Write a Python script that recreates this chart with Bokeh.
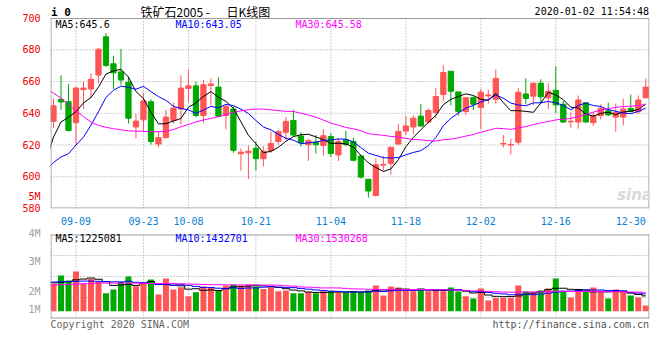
from bokeh.plotting import figure
from bokeh.models import ColumnDataSource, FixedTicker, Label, Range1d
from bokeh.layouts import column
from bokeh.embed import file_html
from bokeh.resources import INLINE

# ---------------- data ----------------
dates = ["09-04", "09-05", "09-06", "09-09", "09-10", "09-11", "09-12", "09-16", "09-17", "09-18",
         "09-19", "09-20", "09-23", "09-24", "09-25", "09-26", "09-27", "09-30", "10-08", "10-09",
         "10-10", "10-11", "10-14", "10-15", "10-16", "10-17", "10-18", "10-21", "10-22", "10-23",
         "10-24", "10-25", "10-28", "10-29", "10-30", "10-31", "11-01", "11-04", "11-05", "11-06",
         "11-07", "11-08", "11-11", "11-12", "11-13", "11-14", "11-15", "11-18", "11-19", "11-20",
         "11-21", "11-22", "11-25", "11-26", "11-27", "11-28", "11-29", "12-02", "12-03", "12-04",
         "12-05", "12-06", "12-09", "12-10", "12-11", "12-12", "12-13", "12-16", "12-17", "12-18",
         "12-19", "12-20", "12-23", "12-24", "12-25", "12-26", "12-27", "12-30", "12-31", "01-02"]

opens = [634.9, 648.8, 647.3, 634.1, 654.9, 655.3, 664.1, 688.2, 671.2, 666.1,
         659.6, 631.4, 635.9, 647.3, 620.6, 624.7, 635.5, 642.7, 655.7, 657.3,
         638.6, 657.5, 656.5, 638.6, 642.7, 614.5, 615.1, 618.0, 611.4, 616.5,
         622.2, 628.0, 635.5, 625.7, 620.2, 621.8, 619.8, 625.3, 613.7, 623.3,
         622.2, 613.1, 598.4, 588.2, 607.3, 608.4, 620.6, 628.8, 631.4, 638.2,
         634.5, 640.6, 651.8, 666.5, 653.5, 641.2, 649.8, 643.7, 651.0, 648.8,
         620.6, 620.0, 621.8, 652.2, 650.8, 659.0, 649.8, 654.5, 645.7, 634.6,
         634.5, 646.7, 634.1, 638.6, 641.6, 637.6, 637.6, 643.1, 641.0, 649.8]
highs = [649.2, 663.9, 658.4, 656.9, 660.0, 665.1, 681.0, 690.5, 676.3, 680.6,
         663.1, 639.6, 652.9, 648.8, 628.8, 642.2, 646.7, 663.9, 667.6, 660.0,
         661.0, 662.0, 662.7, 645.7, 644.3, 617.8, 619.6, 622.2, 619.2, 628.4,
         629.4, 637.6, 642.2, 628.0, 623.9, 626.3, 630.0, 627.3, 624.3, 629.0,
         624.7, 613.7, 598.4, 611.6, 613.1, 618.6, 633.5, 638.2, 638.6, 645.7,
         643.1, 655.9, 670.2, 666.5, 653.5, 650.0, 650.8, 655.3, 654.9, 667.6,
         626.3, 623.9, 655.9, 662.0, 659.0, 661.4, 659.0, 669.6, 647.8, 640.6,
         651.2, 647.1, 640.6, 645.7, 646.7, 646.1, 649.2, 651.8, 651.2, 662.0]
lows = [630.8, 642.2, 628.5, 620.2, 642.7, 649.8, 659.0, 669.2, 655.3, 658.0,
        633.5, 624.3, 628.4, 620.2, 618.6, 623.9, 633.5, 632.9, 647.1, 637.6,
        634.1, 645.1, 637.5, 629.8, 615.1, 603.9, 598.6, 603.9, 606.5, 615.1,
        620.2, 623.3, 625.9, 619.2, 610.0, 614.7, 613.3, 612.4, 610.0, 619.2,
        609.6, 598.8, 586.9, 587.5, 603.9, 601.4, 620.2, 626.3, 626.7, 631.4,
        633.5, 636.9, 647.8, 645.1, 638.6, 639.0, 642.0, 630.0, 646.1, 645.9,
        618.4, 614.1, 620.2, 645.7, 645.1, 645.7, 642.7, 640.2, 634.1, 631.0,
        630.4, 634.1, 632.0, 636.1, 638.2, 628.4, 632.4, 640.6, 639.6, 649.4]
closes = [644.7, 647.1, 629.2, 655.9, 655.9, 661.4, 680.4, 670.2, 665.5, 661.0,
          636.9, 635.1, 647.8, 622.2, 624.7, 637.6, 643.3, 655.9, 657.3, 638.6,
          658.0, 658.5, 638.2, 644.3, 616.7, 615.5, 616.1, 611.4, 616.1, 621.0,
          628.4, 634.9, 626.3, 621.6, 622.7, 620.2, 625.9, 614.7, 622.2, 620.4,
          610.4, 599.8, 591.0, 607.6, 607.8, 618.6, 628.6, 632.0, 636.9, 632.0,
          641.8, 650.6, 665.7, 653.9, 641.2, 649.8, 645.7, 653.3, 651.6, 662.0,
          621.0, 620.4, 653.3, 649.4, 659.0, 650.4, 653.9, 645.3, 634.5, 635.0,
          648.4, 634.5, 638.6, 643.1, 639.0, 640.6, 642.7, 641.2, 648.4, 656.5]
volumes = [2266000, 2963000, 2548000, 3295000, 2266000, 2681000, 2465000, 1494000, 1801000, 2465000,
           2880000, 2075000, 2266000, 2631000, 1386000, 2714000, 1801000, 1992000, 1245000, 1577000,
           2050000, 1967000, 1718000, 2133000, 2216000, 2133000, 2216000, 2075000, 1851000, 2050000,
           1660000, 1718000, 1494000, 1494000, 1602000, 1494000, 1660000, 1660000, 1577000, 1577000,
           1635000, 1577000, 1718000, 2133000, 1303000, 2050000, 1967000, 1718000, 1660000, 1801000,
           1660000, 1801000, 1660000, 1967000, 1635000, 1245000, 1054000, 1884000, 888000, 1104000,
           1104000, 1104000, 2133000, 1635000, 1577000, 1718000, 1884000, 2714000, 1635000, 1137000,
           1635000, 1635000, 1967000, 1718000, 1054000, 1801000, 1635000, 1303000, 1137000, 473000]

# moving-average values visible before enough on-chart history exists,
# starting one session before the first candle
ma5_lead = [610.0, 625.0, 634.5, 637.5, 641.0]
ma10_lead = [604.0, 609.0, 612.5, 614.5, 620.0, 625.0, 632.5, 641.0, 650.0, 654.5]
ma30_lead = [656.0, 652.7, 649.5, 645.5, 641.5, 638.0, 634.5, 632.3, 631.2, 630.3,
             629.6, 629.0, 628.7, 628.6, 628.4, 628.4, 628.6, 629.8, 631.5, 633.0,
             634.6, 635.8, 636.8, 637.8, 639.2, 640.6, 641.5, 642.3, 642.7, 642.6]
vma5_lead = [2350000, 2350000, 2400000, 2450000, 2600000]
vma10_lead = [2400000, 2420000, 2440000, 2460000, 2480000, 2500000, 2500000, 2480000, 2460000, 2440000]
vma30_lead = [2150000, 2170000, 2200000, 2220000, 2250000, 2280000, 2300000, 2320000, 2330000, 2330000,
              2330000, 2330000, 2330000, 2320000, 2300000, 2300000, 2300000, 2300000, 2280000, 2260000,
              2240000, 2220000, 2200000, 2200000, 2190000, 2180000, 2180000, 2180000, 2170000, 2170000]

tick_labels = ["09-09", "09-23", "10-08", "10-21", "11-04", "11-18", "12-02", "12-16", "12-30"]
price_ticks = [580, 600, 620, 640, 660, 680, 700]
# volume scale labels printed on the source chart (value, text); the lowest one sits at the bar base
vol_scale_main = [(5e6, "5M")]
vol_scale_sub = [(4e6, "4M"), (3e6, "3M"), (2e6, "2M"), (1.38e6, "1M")]

title_parts = ["铁矿石2005 -", "日K线图"]
symbol_text = "i 0"
time_text = "2020-01-02 11:54:48"
price_legend = ["MA5:645.6", "MA10:643.05", "MA30:645.58"]
vol_legend = ["MA5:1225081", "MA10:1432701", "MA30:1530268"]
copyright_text = "Copyright 2020 SINA.COM"
url_text = "http://finance.sina.com.cn"

# ---------------- styling / layout ----------------
MONO = "DejaVu Sans Mono"
CJK = "Noto Sans CJK SC"
UP, DOWN = "#ff5555", "#00a800"
GRID, FRAME = "#a0a0a0", "#999999"
MA_COLORS = ["#000000", "#0000ff", "#ff00ff"]
VLAB_COLOR = "#a0a0a0"

W = 652
LB, RB = 50, 3
FW = W - LB - RB
X0, X1 = -0.4, 79.5
PXU = FW / (X1 - X0)

# main panel: canvas rows 0..227; drawing frame rows 1..213, visible box rows 18..213
H1, BB, FT1 = 227, 14, 1
FB1 = H1 - BB
BOX_TOP = 18
P_LO, P_HI = price_ticks[0], price_ticks[-1]
PPX = (P_HI - P_LO) / (FB1 - BOX_TOP)       # price per pixel
P_TOP = P_HI + (BOX_TOP - FT1) * PPX

# volume panel: canvas rows 227..336 (whole-chart rows); frame rows 228..335
H2, FT2, FB2 = 109, 1, 1
VPX = 83000.0                      # volume per pixel
V_BASE = 310.7                     # row of zero volume
V_HI = (V_BASE - (H1 + FT2)) * VPX
V_LO = -((H1 + H2 - FB2) - V_BASE) * VPX
VBOX_TOP, VBOX_BOT = 234, 318

# the source chart's own volume-label scale: 30 px per million, zero at row 350.7
LBL_PX, LBL_ZERO = 30.0, 350.7


def fx(px):
    return X0 + (px - LB) / PXU


def fy(py):
    return P_TOP - (py - FT1) * PPX


def vy(py):
    return V_HI - (py - (H1 + FT2)) * VPX


def moving(values, n, lead):
    out = list(lead)
    for i in range(n - 1, len(values)):
        out.append(sum(values[i - n + 1:i + 1]) / n)
    return out


def lab(fig, x, y, text, color="#000000", size="10px", font=MONO, align="left", style="normal"):
    fig.add_layout(Label(x=x, y=y, text=text, text_align=align, text_baseline="middle",
                         text_font=font, text_font_size=size, text_font_style=style,
                         text_color=color))


def style_axis(ax, color):
    ax.major_label_text_color = color
    ax.major_label_text_font = MONO
    ax.major_label_text_font_size = "10px"
    ax.axis_line_color = None
    ax.major_tick_line_color = None
    ax.minor_tick_line_color = None


def box(fig, conv, top_row, bot_row):
    # 1-px border of a panel drawn as thin filled strips
    fig.quad(left=[fx(50), fx(50), fx(50), fx(648)],
             right=[fx(649), fx(649), fx(51), fx(649)],
             top=[conv(top_row), conv(bot_row - 1), conv(top_row), conv(top_row)],
             bottom=[conv(top_row + 1), conv(bot_row), conv(bot_row), conv(bot_row)],
             fill_color=FRAME, line_color=None)


n = len(dates)
idx = list(range(n))
colors = [UP if c >= o else DOWN for o, c in zip(opens, closes)]
src = ColumnDataSource(dict(
    x=idx, o=opens, h=highs, l=lows, c=closes,
    top=[max(o, c) for o, c in zip(opens, closes)],
    bot=[min(o, c) for o, c in zip(opens, closes)],
    color=colors, vol=volumes))
ma_x = list(range(-1, n))
mas = [moving(closes, 5, ma5_lead), moving(closes, 10, ma10_lead), moving(closes, 30, ma30_lead)]
vmas = [moving(volumes, 5, vma5_lead), moving(volumes, 10, vma10_lead), moving(volumes, 30, vma30_lead)]

tick_pos = [dates.index(t) for t in tick_labels]
grid_x = tick_pos[:-1]

# ---------------- price panel ----------------
p = figure(width=W, height=H1, x_range=Range1d(X0, X1), y_range=Range1d(fy(FB1), P_TOP),
           output_backend="svg", toolbar_location=None,
           min_border_left=LB, min_border_right=RB, min_border_top=FT1, min_border_bottom=BB)
p.outline_line_color = None
p.background_fill_color = "white"
p.border_fill_color = "white"

# the "5M" volume-scale label printed in the price panel's margin, placed on the price axis
five_m_at = fy(LBL_ZERO - vol_scale_main[0][0] / 1e6 * LBL_PX)
p.yaxis.ticker = FixedTicker(ticks=price_ticks + [five_m_at])
p.yaxis.major_label_overrides = {five_m_at: vol_scale_main[0][1]}
style_axis(p.yaxis[0], "#f00000")
p.yaxis.major_label_standoff = 4

p.xaxis.ticker = FixedTicker(ticks=tick_pos)
p.xaxis.major_label_overrides = {i: t for i, t in zip(tick_pos, tick_labels)}
style_axis(p.xaxis[0], "#0a7fd2")
p.xaxis.major_label_standoff = 2

p.xgrid.visible = False
p.ygrid.visible = False
gy = price_ticks[1:-1]
p.segment(x0=[X0] * len(gy), y0=gy, x1=[X1] * len(gy), y1=gy,
          line_color=GRID, line_dash="1 2", line_width=1)
p.segment(x0=grid_x, y0=[P_LO] * len(grid_x), x1=grid_x, y1=[P_HI] * len(grid_x),
          line_color=GRID, line_dash="1 2", line_width=1)

p.segment(x0="x", y0="l", x1="x", y1="h", line_color="color", line_width=1, source=src)
p.vbar(x="x", width=0.7, top="top", bottom="bot", fill_color="color", line_color="color",
       line_width=1, source=src)
for vals, col in zip(mas, MA_COLORS):
    p.line(ma_x, vals, line_color=col, line_width=1)

box(p, fy, BOX_TOP, FB1)

lab(p, fx(634), fy(199), "sina", color="#d9d9d9", size="15px", font="DejaVu Sans",
    align="center", style="bold italic")
lab(p, fx(50.5), fy(12.0), symbol_text, size="11px", style="bold")
lab(p, fx(140), fy(11.0), title_parts[0], size="12px", font=CJK)
lab(p, fx(226), fy(11.0), title_parts[1], size="12px", font=CJK)
lab(p, fx(648.5), fy(11.5), time_text, align="right")
for txt, col, px in zip(price_legend, MA_COLORS, [55, 175, 295]):
    lab(p, fx(px), fy(24.5), txt, color=col)

# ---------------- volume panel ----------------
p2 = figure(width=W, height=H2, x_range=p.x_range, y_range=Range1d(V_LO, V_HI),
            output_backend="svg", toolbar_location=None,
            min_border_left=LB, min_border_right=RB, min_border_top=FT2, min_border_bottom=FB2)
p2.outline_line_color = None
p2.background_fill_color = "white"
p2.border_fill_color = "white"
p2.xaxis.visible = False
p2.extra_y_ranges = {"vlab": Range1d((LBL_ZERO - (H1 + H2 - FB2)) / LBL_PX * 1e6,
                                     (LBL_ZERO - (H1 + FT2)) / LBL_PX * 1e6)}
p2.yaxis[0].y_range_name = "vlab"
p2.yaxis.ticker = FixedTicker(ticks=[v for v, _ in vol_scale_sub])
p2.yaxis.major_label_overrides = {v: t for v, t in vol_scale_sub}
style_axis(p2.yaxis[0], VLAB_COLOR)
p2.yaxis.major_label_standoff = 4

p2.xgrid.visible = False
p2.ygrid.visible = False
vgy = [vy(VBOX_TOP + (VBOX_BOT - VBOX_TOP) * k / 4) for k in (1, 2, 3)]
p2.segment(x0=[X0] * 3, y0=vgy, x1=[X1] * 3, y1=vgy,
           line_color=GRID, line_dash="1 2", line_width=1)
p2.segment(x0=grid_x, y0=[vy(VBOX_BOT)] * len(grid_x), x1=grid_x, y1=[vy(VBOX_TOP)] * len(grid_x),
           line_color=GRID, line_dash="1 2", line_width=1)

p2.vbar(x="x", width=0.8, top="vol", bottom=0, fill_color="color", line_color=None, source=src)
for vals, col in zip(vmas, MA_COLORS):
    p2.step(ma_x, vals, mode="center", line_color=col, line_width=1)

box(p2, vy, VBOX_TOP, VBOX_BOT)

for txt, col, px in zip(vol_legend, MA_COLORS, [55, 175, 295]):
    lab(p2, fx(px), vy(238.3), txt, color=col)
lab(p2, fx(50), vy(323.5), copyright_text, color="#666666")
lab(p2, fx(648.5), vy(323.5), url_text, color="#555555", align="right")

layout = column(p, p2, spacing=0)
open("out.html", "w").write(file_html(layout, INLINE))
